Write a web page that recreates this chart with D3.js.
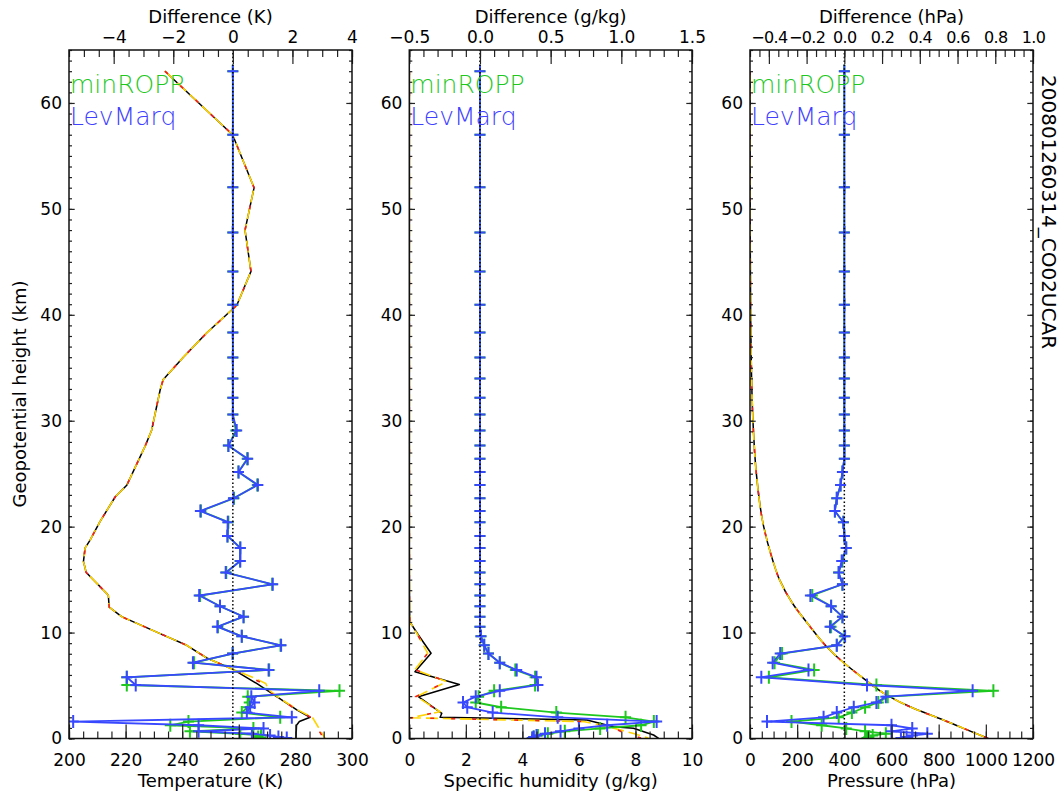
<!DOCTYPE html>
<html><head><meta charset="utf-8">
<script src="https://cdn.jsdelivr.net/npm/d3@7"></script>
<style>body{margin:0;background:#fff}svg{display:block}</style>
</head><body><svg id="c" width="1061" height="799"></svg>
<script>
// ---------------- DATA ----------------
const seriesNames = ["minROPP", "LevMarq"];
const runLabel = "200801260314_CO02UCAR";
// retrieval levels (geopotential height, km)
const levels = [63.0,57.0,52.05,47.76,44.08,40.94,38.32,35.96,33.98,32.18,30.58,29.07,27.65,26.42,25.17,23.94,22.68,21.48,20.42,19.12,17.99,16.76,15.66,14.56,13.5,12.48,11.5,10.56,9.65,8.8,8.02,7.16,6.47,5.78,5.05,4.5,3.95,3.4,2.95,2.45,2.0,1.6,1.25,0.95,0.68,0.45,0.28,0.15,0.05];
// temperature differences (K)
const tDiffMinROPP = [0,0,0,0,0,0,0,0,0,0,0,0.10,-0.15,0.48,0.19,0.82,0.04,-1.07,-0.15,-0.18,0.25,0.24,-0.22,1.32,-1.10,-0.43,0.36,-0.50,0.30,1.60,0.0,-1.30,1.22,-3.56,-3.56,3.58,0.50,0.55,0.50,0.30,1.59,-1.49,-2.10,0.69,-1.44,0.25,0.95,0.85,0.95];
const tDiffLevMarq = [0,0,0,0,0,0,0,0,0,0,0,0.13,-0.15,0.50,0.19,0.84,0.02,-1.09,-0.17,-0.18,0.25,0.25,-0.24,1.34,-1.13,-0.43,0.36,-0.52,0.30,1.62,-0.01,-1.34,1.20,-3.56,-3.26,2.90,0.62,0.73,0.58,0.47,1.98,-5.36,-1.15,1.03,-1.15,0.64,1.25,1.53,1.81];
// specific humidity differences (g/kg)
const qDiffMinROPP = [0,0,0,0,0,0,0,0,0,0,0,0,0,0,0,0,0,0,0,0,0,0,0,0,0,0,0,0,0.007,0.03,0.06,0.14,0.25,0.39,0.39,0.10,-0.01,-0.03,0.15,0.54,1.03,1.23,1.14,0.85,0.60,0.48,0.41,0.38,0.37];
const qDiffLevMarq = [0,0,0,0,0,0,0,0,0,0,0,0,0,0,0,0,0,0,0,0,0,0,0,0,0,0,0,0,0.007,0.03,0.06,0.14,0.26,0.40,0.41,0.14,-0.03,-0.12,-0.09,0.09,0.55,1.25,0.90,0.70,0.57,0.46,0.40,0.38,0.37];
// pressure differences (hPa)
const pDiffMinROPP = [0,0,0,0,0,0,0,0,0,0,0,0,0,0,-0.01,-0.02,-0.04,-0.05,-0.005,0,0.01,-0.01,-0.03,-0.01,-0.17,-0.07,-0.01,-0.07,0.0,-0.04,-0.33,-0.37,-0.16,-0.40,0.17,0.79,0.23,0.18,0.11,0.04,-0.03,-0.28,-0.12,0.01,0.11,0.22,0.15,0.13,0.12];
const pDiffLevMarq = [0,0,0,0,0,0,0,0,0,0,0,0,0,0,-0.01,-0.02,-0.04,-0.05,-0.005,0,0.01,-0.014,-0.03,-0.01,-0.18,-0.07,-0.01,-0.076,0.004,-0.04,-0.34,-0.38,-0.19,-0.44,0.12,0.68,0.22,0.17,0.05,-0.04,-0.11,-0.41,0.25,0.36,0.25,0.44,0.36,0.33,0.30];
// background temperature profiles (K)
const tProfZ = [63,57,52,48,44.1,40.9,38.3,36.0,33.9,32.9,29.1,27.6,23.9,22.8,20.5,18.7,18.0,16.7,16.1,15.7,13.7,13.5,12.4,11.5,9.9,8.8,7.6,6.5,5.2,3.95,2.7,2.0,1.6,1.25,0.05];
const tBlack = [233.9,257.8,265.4,262.2,264.3,259.3,248.7,240.4,233.3,232.2,229.2,226.9,220.4,216.3,211.0,207.4,205.7,205.1,205.7,206.0,213.3,213.9,214.2,218.6,232.2,241.6,248.7,258.1,266.3,273.4,280.5,285.2,281.4,280.4,280.2];
const tAltZ = [63,57,52,48,44.1,40.9,38.3,36.0,33.9,32.9,29.1,27.6,23.9,22.8,20.5,18.7,18.0,16.7,16.1,15.7,13.7,13.5,12.4,11.5,9.9,8.8,7.6,6.5,5.7,5.2,4.6,3.95,2.7,2.0,0.0];
const tRed = [233.9,257.8,265.4,262.2,264.3,259.3,248.7,240.4,233.3,232.2,229.2,226.9,220.4,216.3,211.0,207.4,205.7,205.1,205.7,206.0,213.3,213.9,214.2,218.6,232.2,241.6,248.7,258.1,264.5,268.5,269.5,273.4,280.5,285.5,290.0];
const tYellow = [233.9,257.8,265.4,262.2,264.3,259.3,248.7,240.4,233.3,232.2,229.2,226.9,220.4,216.3,211.0,207.4,205.7,205.1,205.7,206.0,213.3,213.9,214.2,218.6,232.2,241.6,248.7,258.1,265.5,269.5,270.5,273.6,280.8,286.0,290.5];
// background specific humidity profiles (g/kg)
const qBlackZ = [63,40,20,15,12,11.0,9.77,8.05,6.3,5.1,3.95,2.38,2.0,1.75,1.11,0.96,0.33,0.02];
const qBlack = [0.003,0.003,0.003,0.004,0.01,0.02,0.32,0.77,0.2,1.77,0.32,1.15,1.09,6.28,7.22,7.93,8.64,8.82];
const qAltZ = [63,40,20,15,12,11.0,9.77,8.05,6.5,5.37,3.95,2.53,1.96,1.59,1.06,0.5,0.05];
const qRed = [0.003,0.003,0.003,0.004,0.01,0.02,0.30,0.65,0.2,1.32,0.22,1.09,0.02,6.28,7.2,7.6,8.2];
const qYellow = [0.003,0.003,0.003,0.004,0.01,0.02,0.30,0.65,0.2,1.32,0.26,1.09,0.05,6.2,7.1,7.9,8.46];
// background pressure profiles (hPa)
const pProfZ = [63,60,55,50,45,40,35,30,25,20,16.85,15,12.77,10.56,8.67,7.1,5.68,4.1,2.85,1.75,0.96,0.0];
const pBlack = [0.16,0.22,0.4,0.75,1.4,2.8,5.8,12.5,27,58,96,125,180,255,325,400,481,580,693,820,905,1011];
const pRed = [0.16,0.22,0.4,0.75,1.4,2.8,5.8,12.5,27,58,96,125,180,255,325,400,481,580,693,820,905,1011];
const pYellow = [0.16,0.22,0.4,0.75,1.4,2.8,5.8,12.5,27,58,96,125,180,255,325,400,481,580,693,820,905,1011];

// ---------------- DRAW ----------------
const GREEN = "#1ec81e", BLUE = "#3848ff";
const svg = d3.select("#c");
const FONT = '"DejaVu Sans", sans-serif';
const TOP = 50, BOT = 738.5;
const y = d3.scaleLinear().domain([0, 65]).range([BOT, TOP]);
const zip = (v, z) => v.map((d, i) => [d, z[i]]);
function ticksOf(dom, step) {
  const k0 = Math.ceil(dom[0] / step - 1e-9), k1 = Math.floor(dom[1] / step + 1e-9);
  return d3.range(k0, k1 + 1).map(k => +(k * step).toFixed(10));
}

const panels = [
  {x0: 69, x1: 352, dom: [200, 300], bMaj: 20, bMin: 5, bFmt: d3.format("d"),
   dDom: [-5.5, 4], tMaj: 2, tMin: 0.5, tFmt: d3.format("d"), tSize: 17, tSpace: 0,
   xTitle: "Temperature (K)", dTitle: "Difference (K)", curve: d3.curveLinear,
   prof: [[tBlack, tProfZ], [tRed, tAltZ], [tYellow, tAltZ]],
   diffs: [tDiffMinROPP, tDiffLevMarq]},
  {x0: 409.3, x1: 692, dom: [0, 10], bMaj: 2, bMin: 0.5, bFmt: d3.format("d"),
   dDom: [-0.5, 1.5], tMaj: 0.5, tMin: 0.1, tFmt: d3.format(".1f"), tSize: 17, tSpace: 0,
   xTitle: "Specific humidity (g/kg)", dTitle: "Difference (g/kg)", curve: d3.curveLinear,
   prof: [[qBlack, qBlackZ], [qRed, qAltZ], [qYellow, qAltZ]],
   diffs: [qDiffMinROPP, qDiffLevMarq]},
  {x0: 750, x1: 1033, dom: [0, 1200], bMaj: 200, bMin: 50, bFmt: d3.format("d"),
   dDom: [-0.5, 1.0], tMaj: 0.2, tMin: 0.05, tFmt: d3.format(".1f"), tSize: 16, tSpace: -0.6,
   xTitle: "Pressure (hPa)", dTitle: "Difference (hPa)", curve: d3.curveMonotoneY,
   prof: [[pBlack, pProfZ], [pRed, pProfZ], [pYellow, pProfZ]],
   diffs: [pDiffMinROPP, pDiffLevMarq]}
];

const profStyles = [
  {stroke: "#000", dash: null, w: 1.5},
  {stroke: "#ffd400", dash: "12,5", w: 1.6},
  {stroke: "#ee2020", dash: "4,17", w: 1.6}
];

function styleAxis(g, labels, size, spacing) {
  g.select(".domain").remove();
  g.selectAll(".tick line").attr("stroke", "#222").attr("stroke-width", 1.2);
  g.selectAll("text").attr("font-family", FONT).attr("font-size", size || 17)
    .attr("letter-spacing", spacing || 0).attr("fill", "#000");
  if (!labels) g.selectAll("text").remove();
}

panels.forEach((P, pi) => {
  const g = svg.append("g");
  const x = d3.scaleLinear().domain(P.dom).range([P.x0, P.x1]);
  const xd = d3.scaleLinear().domain(P.dDom).range([P.x0, P.x1]);
  const cid = "clip" + pi;
  svg.append("clipPath").attr("id", cid).append("rect")
    .attr("x", P.x0).attr("y", TOP).attr("width", P.x1 - P.x0).attr("height", BOT - TOP);
  const plot = g.append("g").attr("clip-path", `url(#${cid})`);

  // background profiles: black solid, yellow dashed, red dashed
  const line = d3.line().x(d => x(d[0])).y(d => y(d[1])).curve(P.curve);
  [[P.prof[0], profStyles[0]], [P.prof[2], profStyles[1]], [P.prof[1], profStyles[2]]].forEach(([pr, s]) => {
    plot.append("path").datum(zip(pr[0], pr[1])).attr("d", line)
      .attr("fill", "none").attr("stroke", s.stroke).attr("stroke-width", s.w)
      .attr("stroke-dasharray", s.dash).attr("stroke-linejoin", "round");
  });

  // difference profiles
  const dline = d3.line().x(d => xd(d[0])).y(d => y(d[1]));
  [[P.diffs[0], GREEN], [P.diffs[1], BLUE]].forEach(([vals, col]) => {
    const data = zip(vals, levels);
    plot.append("path").datum(data).attr("d", dline)
      .attr("fill", "none").attr("stroke", col).attr("stroke-width", 1.8);
    plot.selectAll(null).data(data).enter().append("path")
      .attr("transform", d => `translate(${xd(d[0])},${y(d[1])})`)
      .attr("d", "M-5.5,0H5.5M0,-6.5V6.5")
      .attr("stroke", col).attr("stroke-width", 2).attr("fill", "none");
  });

  // zero-difference dotted line
  plot.append("line").attr("x1", xd(0)).attr("x2", xd(0)).attr("y1", BOT).attr("y2", TOP)
    .attr("stroke", "#000").attr("stroke-width", 1.5).attr("stroke-dasharray", "1.5,2.3");

  // axes
  const bMaj = ticksOf(P.dom, P.bMaj), bMin = ticksOf(P.dom, P.bMin);
  const tMaj = ticksOf(P.dDom, P.tMaj), tMin = ticksOf(P.dDom, P.tMin);
  const yMaj = ticksOf([0, 65], 10), yMin = ticksOf([0, 65], 1);

  g.append("g").attr("transform", `translate(0,${BOT})`)
    .call(d3.axisBottom(x).tickValues(bMin).tickSize(-7).tickSizeOuter(0).tickFormat(""))
    .call(a => styleAxis(a, false));
  g.append("g").attr("transform", `translate(0,${BOT})`)
    .call(d3.axisBottom(x).tickValues(bMaj).tickSize(-14).tickSizeOuter(0).tickPadding(15).tickFormat(P.bFmt))
    .call(a => styleAxis(a, true));
  g.append("g").attr("transform", `translate(0,${TOP})`)
    .call(d3.axisTop(xd).tickValues(tMin).tickSize(-7).tickSizeOuter(0).tickFormat(""))
    .call(a => styleAxis(a, false));
  g.append("g").attr("transform", `translate(0,${TOP})`)
    .call(d3.axisTop(xd).tickValues(tMaj).tickSize(-14).tickSizeOuter(0).tickPadding(7).tickFormat(P.tFmt))
    .call(a => styleAxis(a, true, P.tSize, P.tSpace));
  g.append("g").attr("transform", `translate(${P.x0},0)`)
    .call(d3.axisLeft(y).tickValues(yMin).tickSize(-3).tickSizeOuter(0).tickFormat(""))
    .call(a => styleAxis(a, false));
  g.append("g").attr("transform", `translate(${P.x0},0)`)
    .call(d3.axisLeft(y).tickValues(yMaj).tickSize(-5.7).tickSizeOuter(0).tickPadding(7).tickFormat(d3.format("d")))
    .call(a => styleAxis(a, true));
  g.append("g").attr("transform", `translate(${P.x1},0)`)
    .call(d3.axisRight(y).tickValues(yMin).tickSize(-3).tickSizeOuter(0).tickFormat(""))
    .call(a => styleAxis(a, false));
  g.append("g").attr("transform", `translate(${P.x1},0)`)
    .call(d3.axisRight(y).tickValues(yMaj).tickSize(-5.7).tickSizeOuter(0).tickFormat(""))
    .call(a => styleAxis(a, false));

  g.append("rect").attr("x", P.x0).attr("y", TOP).attr("width", P.x1 - P.x0).attr("height", BOT - TOP)
    .attr("fill", "none").attr("stroke", "#111").attr("stroke-width", 1.5);

  // titles
  const cx = (P.x0 + P.x1) / 2;
  g.append("text").attr("x", cx).attr("y", 787).attr("text-anchor", "middle")
    .attr("font-family", FONT).attr("font-size", 18).text(P.xTitle);
  g.append("text").attr("x", cx).attr("y", 22.5).attr("text-anchor", "middle")
    .attr("font-family", FONT).attr("font-size", 18).text(P.dTitle);

  // legend
  g.append("text").attr("x", P.x0 + 1).attr("y", 93).attr("fill", GREEN)
    .attr("font-family", FONT).attr("font-weight", 300).attr("font-size", 25).text(seriesNames[0]);
  g.append("text").attr("x", P.x0 + 1).attr("y", 125).attr("fill", "#4040ff")
    .attr("font-family", FONT).attr("font-weight", 300).attr("font-size", 25).text(seriesNames[1]);
});

svg.append("text").attr("transform", "translate(26,394) rotate(-90)").attr("text-anchor", "middle")
  .attr("font-family", FONT).attr("font-size", 18).text("Geopotential height (km)");
svg.append("text").attr("transform", "translate(1042,75) rotate(90)").attr("text-anchor", "start")
  .attr("font-family", FONT).attr("font-size", 20).text(runLabel);
</script></body></html>
